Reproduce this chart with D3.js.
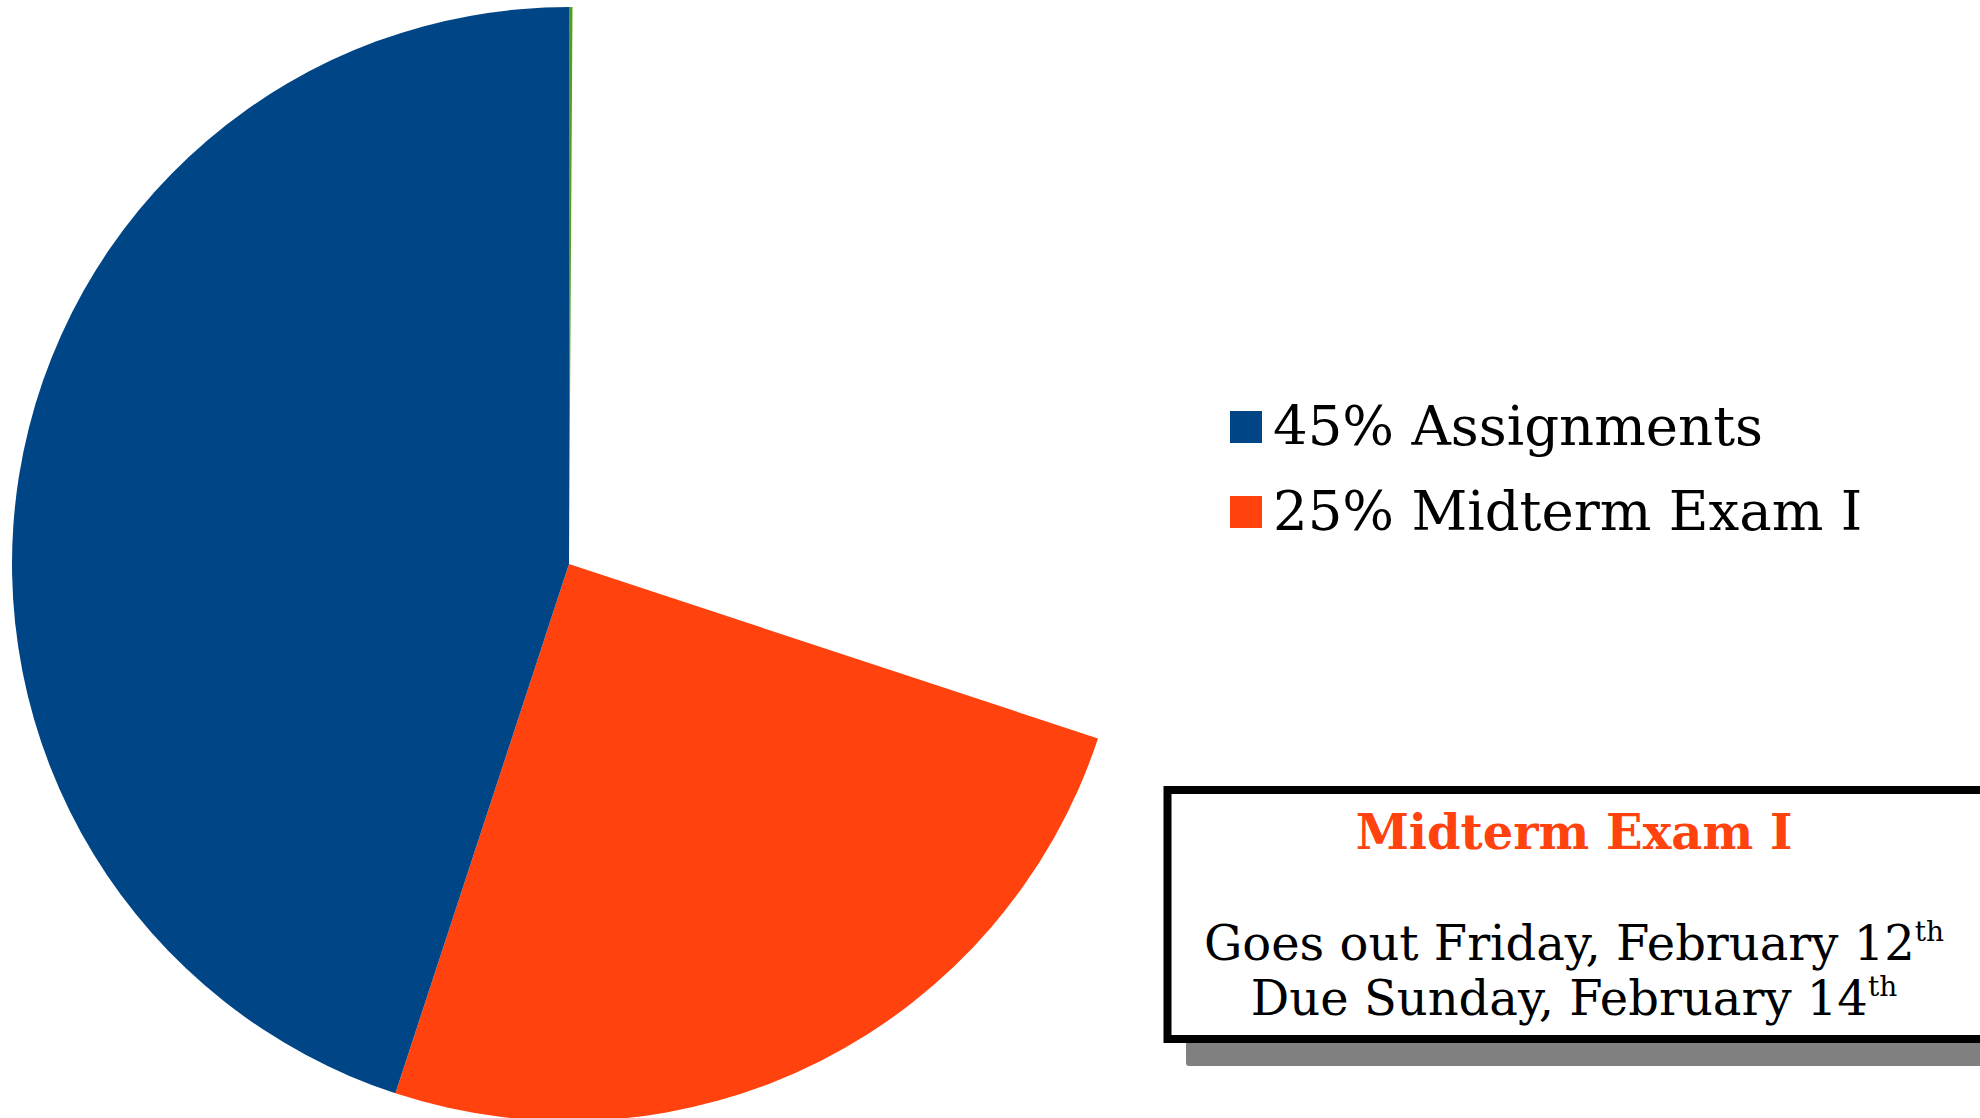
<!DOCTYPE html>
<html>
<head>
<meta charset="utf-8">
<script src="https://cdn.jsdelivr.net/npm/d3@7"></script>
<style>
  html, body { margin: 0; padding: 0; background: #ffffff; }
  svg { display: block; }
</style>
</head>
<body>
<script>
// Grade breakdown: share of the final mark per component
const categories = ["Assignments", "Midterm Exam I", "Remaining", "Participation"];
const shares = [45, 25, 30, 0.1];
const sliceColors = ["#004586", "#ff420e", "none", "#579d1c"];
// slices are laid out clockwise from 12 o'clock in this order
const drawOrder = [3, 2, 1, 0];

const legendLabels = ["45% Assignments", "25% Midterm Exam I"];
const legendColors = ["#004586", "#ff420e"];

const noteTitle = "Midterm Exam I";
const noteLines = [
  ["Goes out Friday, February 12", "th"],
  ["Due Sunday, February 14", "th"]
];

const W = 1980, H = 1118;
const FONT = "'DejaVu Serif', 'Liberation Serif', serif";

const svg = d3.select("body").append("svg")
  .attr("width", W).attr("height", H)
  .attr("viewBox", `0 0 ${W} ${H}`);

// ---- pie ----
const cx = 569, cy = 564, R = 557;
const pie = d3.pie().sort(null).value(d => d.value);
const arc = d3.arc().innerRadius(0).outerRadius(R);
const slices = pie(drawOrder.map(i => ({
  name: categories[i], value: shares[i], color: sliceColors[i]
})));

svg.append("g")
  .attr("transform", `translate(${cx},${cy})`)
  .selectAll("path")
  .data(slices)
  .join("path")
  .attr("d", arc)
  .attr("fill", d => d.data.color);

// ---- legend ----
const legend = svg.append("g").attr("transform", "translate(1230,411)");
const rowGap = 85;
const item = legend.selectAll("g")
  .data(legendLabels)
  .join("g")
  .attr("transform", (d, i) => `translate(0,${i * rowGap})`);
item.append("rect")
  .attr("width", 32).attr("height", 32)
  .attr("fill", (d, i) => legendColors[i]);
item.append("text")
  .attr("x", 43).attr("y", 34)
  .attr("font-family", FONT)
  .attr("font-size", 54.5)
  .attr("fill", "#000")
  .text(d => d);

// ---- note box ----
const box = { x: 1167.5, y: 790, w: 830, h: 249 };
svg.append("rect")
  .attr("x", box.x + 18.5).attr("y", box.y + 22)
  .attr("width", box.w).attr("height", box.h + 5)
  .attr("rx", 3)
  .attr("fill", "#808080");
svg.append("rect")
  .attr("x", box.x).attr("y", box.y)
  .attr("width", box.w).attr("height", box.h)
  .attr("fill", "#ffffff")
  .attr("stroke", "#000000")
  .attr("stroke-width", 8);

const midX = 1574;
svg.append("text")
  .attr("x", midX).attr("y", 849)
  .attr("text-anchor", "middle")
  .attr("font-family", FONT)
  .attr("font-weight", "bold")
  .attr("font-size", 48)
  .attr("fill", "#ff420e")
  .text(noteTitle);

noteLines.forEach((ln, i) => {
  const t = svg.append("text")
    .attr("x", midX).attr("y", 960 + i * 55)
    .attr("text-anchor", "middle")
    .attr("font-family", FONT)
    .attr("font-size", 48)
    .attr("fill", "#000");
  t.append("tspan").text(ln[0]);
  t.append("tspan").attr("font-size", 28).attr("dy", -19).text(ln[1]);
});
</script>
</body>
</html>
